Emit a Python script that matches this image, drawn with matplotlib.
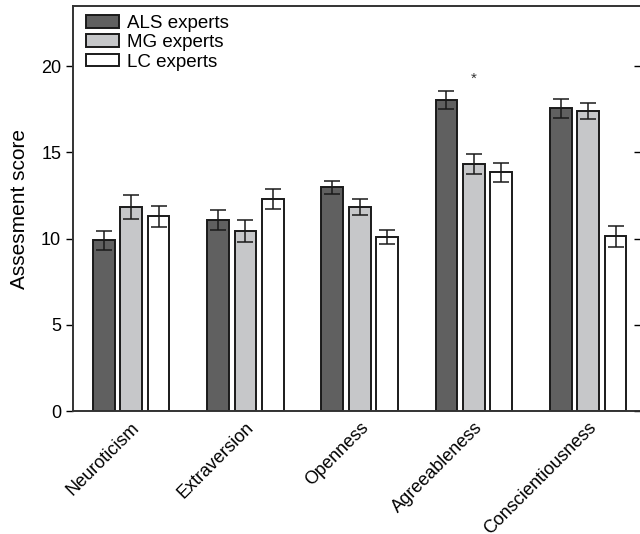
import numpy as np
import matplotlib
matplotlib.use('Agg')
import matplotlib.pyplot as plt

plt.rcParams['font.family'] = ['Liberation Sans', 'DejaVu Sans']

# Dados
categorias = ['Neuroticism', 'Extraversion', 'Openness', 'Agreeableness', 'Conscientiousness']
grupos = ['ALS experts', 'MG experts', 'LC experts']
als = [9.9, 11.07, 12.99, 18.03, 17.57]
mg = [11.86, 10.43, 11.83, 14.32, 17.39]
lc = [11.3, 12.29, 10.09, 13.86, 10.14]
als_err = [0.55, 0.58, 0.38, 0.52, 0.55]
mg_err = [0.7, 0.64, 0.46, 0.58, 0.46]
lc_err = [0.6, 0.58, 0.4, 0.55, 0.6]
cores = ['#606060', '#c6c7c9', '#ffffff']

fig = plt.figure(figsize=(6.4, 5.34), dpi=100)
ax = fig.add_axes([0.114, 0.2303, 0.887, 0.7585])

x = np.arange(len(categorias))
largura = 0.19
passo = 0.24

series = [als, mg, lc]
erros = [als_err, mg_err, lc_err]
for i in range(3):
    ax.bar(x + (i - 1) * passo, series[i], largura, color=cores[i],
           edgecolor='#1a1a1a', linewidth=1.4, label=grupos[i], zorder=2)
    ax.errorbar(x + (i - 1) * passo, series[i], yerr=erros[i], fmt='none',
                ecolor='#1a1a1a', elinewidth=1.1, capsize=6, capthick=1.1, zorder=3)

# asterisco em Agreeableness
ax.text(x[3], 19.3, '*', ha='center', va='center', fontsize=11, color='#333333')

ax.set_xlim(-0.51, 4.46)
ax.set_ylim(0, 23.5)
ax.set_yticks([0, 5, 10, 15, 20])
ax.set_xticks(x)
ax.set_xticklabels(categorias, rotation=45, ha='right', rotation_mode='anchor', fontsize=13)
ax.tick_params(axis='x', length=0, pad=6)
ax.tick_params(axis='y', labelsize=13, length=5, width=1, direction='out')
ax.set_ylabel('Assesment score', fontsize=15, labelpad=9)

# ticks para dentro no lado direito
ax2 = ax.twinx()
ax2.set_ylim(ax.get_ylim())
ax2.set_yticks([0, 5, 10, 15, 20])
ax2.tick_params(axis='y', direction='in', length=5, width=1, labelright=False)

for a in (ax, ax2):
    for s in a.spines.values():
        s.set_color('#333333')
        s.set_linewidth(1.2)

ax.legend(loc='upper left', bbox_to_anchor=(0.0, 1.01), frameon=False, fontsize=13.5,
          handlelength=1.75, handleheight=0.65, labelspacing=0.12, handletextpad=0.45,
          borderaxespad=0.3)

plt.savefig('out.png', dpi=100)
